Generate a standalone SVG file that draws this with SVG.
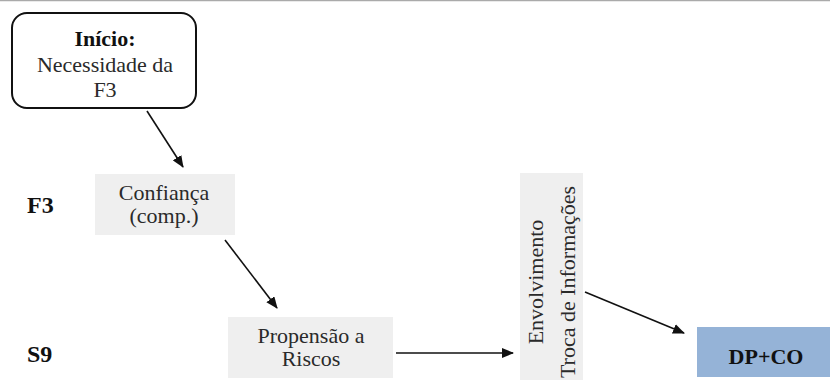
<svg xmlns="http://www.w3.org/2000/svg" width="830" height="388" viewBox="0 0 830 388">
  <style>
    text { font-family: "Liberation Serif", "Times New Roman", serif; fill: #2a2a2a; }
    .lbl { font-size: 22px; text-anchor: middle; }
    .b { font-weight: bold; fill: #111; }
    .side { font-size: 24px; font-weight: bold; fill: #111; }
    .grey { fill: #efefef; }
    .edge { stroke: #111; stroke-width: 1.6; fill: none; marker-end: url(#arrow); }
  </style>
  <defs>
    <marker id="arrow" viewBox="0 0 12 10" refX="11" refY="5" markerWidth="12" markerHeight="10" markerUnits="userSpaceOnUse" orient="auto">
      <path d="M0,0 L12,5 L0,10 z" fill="#111"/>
    </marker>
  </defs>

  <rect width="830" height="388" fill="#ffffff"/>
  <line x1="0" y1="0.5" x2="830" y2="0.5" stroke="#aaaaaa" stroke-width="1.5"/>

  <!-- row labels -->
  <text class="side" x="27" y="213">F3</text>
  <text class="side" x="27" y="362">S9</text>

  <g id="inicio">
    <rect x="12" y="13" width="184" height="95" rx="15" ry="15" fill="#ffffff" stroke="#111" stroke-width="2"/>
    <text class="lbl b" x="105" y="46">Início:</text>
    <text class="lbl" x="105" y="72">Necessidade da</text>
    <text class="lbl" x="105" y="97">F3</text>
  </g>

  <g id="confianca">
    <rect class="grey" x="95" y="174" width="140" height="61"/>
    <text class="lbl" x="164" y="200">Confiança</text>
    <text class="lbl" x="164" y="223">(comp.)</text>
  </g>

  <g id="propensao">
    <rect class="grey" x="228" y="317" width="165" height="61"/>
    <text class="lbl" x="311" y="343">Propensão a</text>
    <text class="lbl" x="311" y="366">Riscos</text>
  </g>

  <g id="envolvimento">
    <rect class="grey" x="520" y="173" width="63" height="207"/>
    <text class="lbl" transform="translate(543,282) rotate(-90)">Envolvimento</text>
    <text class="lbl" transform="translate(575,282) rotate(-90)">Troca de Informações</text>
  </g>

  <g id="dpco">
    <rect x="697" y="327" width="133" height="50" fill="#95b3d7"/>
    <text class="lbl b" x="766" y="364">DP+CO</text>
  </g>

  <g id="connectors">
    <line class="edge" x1="147" y1="111" x2="183" y2="167"/>
    <line class="edge" x1="225" y1="240" x2="277" y2="308"/>
    <line class="edge" x1="396" y1="353" x2="513" y2="353"/>
    <line class="edge" x1="585" y1="292" x2="684" y2="333"/>
  </g>
</svg>
